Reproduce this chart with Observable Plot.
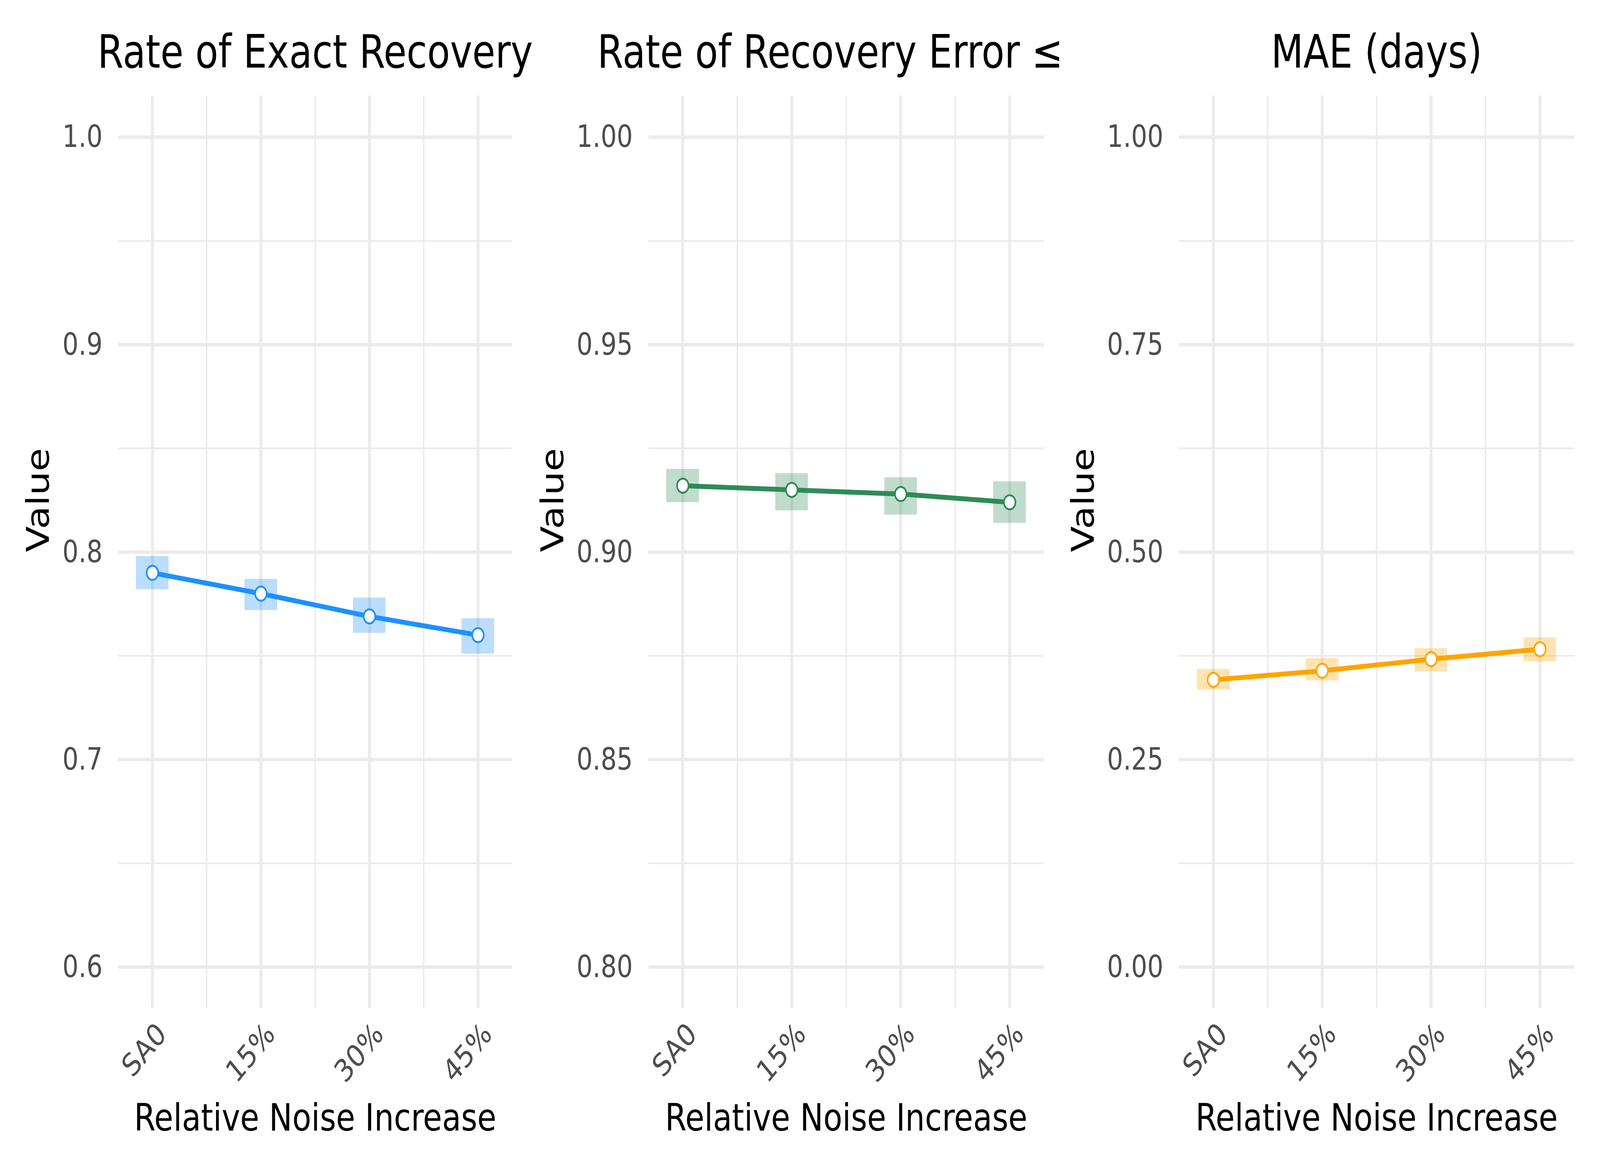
<!DOCTYPE html>
<html><head><meta charset="utf-8">
<script src="https://cdn.jsdelivr.net/npm/d3@7"></script>
<script src="https://cdn.jsdelivr.net/npm/@observablehq/plot@0.6"></script>
<style>
html,body{margin:0;padding:0;background:#fff;overflow:hidden;}
#chart{position:relative;width:5000px;height:3000px;background:#fff;overflow:hidden;transform-origin:0 0;}
#chart svg{position:absolute;top:0;max-width:none !important;}
</style></head><body><div id="chart"></div>
<script>
// categories (x positions on a numeric noise scale) and their labels
const noiseLevels = [0, 15, 30, 45];
const noiseLabels = ["SA0", "15%", "30%", "45%"];
const noiseMinor = [7.5, 22.5, 37.5];

// panel 1: rate of exact recovery
const exactRate = [0.790, 0.780, 0.769, 0.760];
const exactLo   = [0.782, 0.772, 0.761, 0.751];
const exactHi   = [0.798, 0.787, 0.778, 0.768];
const exactTicks = [0.6, 0.7, 0.8, 0.9, 1.0];
const exactMinor = [0.65, 0.75, 0.85, 0.95];

// panel 2: rate of recovery error <=
const withinRate = [0.916, 0.915, 0.914, 0.912];
const withinLo   = [0.912, 0.910, 0.909, 0.907];
const withinHi   = [0.920, 0.919, 0.918, 0.917];
const withinTicks = [0.80, 0.85, 0.90, 0.95, 1.00];
const withinMinor = [0.825, 0.875, 0.925, 0.975];

// panel 3: MAE (days)
const maeDays = [0.346, 0.357, 0.371, 0.383];
const maeLo   = [0.334, 0.345, 0.356, 0.368];
const maeHi   = [0.359, 0.372, 0.384, 0.397];
const maeTicks = [0.00, 0.25, 0.50, 0.75, 1.00];
const maeMinor = [0.125, 0.375, 0.625, 0.875];

const titles = ["Rate of Exact Recovery", "Rate of Recovery Error ≤", "MAE (days)"];
const xTitle = "Relative Noise Increase";
const yTitle = "Value";

const FONT = "DejaVu Sans";
const GRID = "#EBEBEB";
const TICKCOL = "#4D4D4D";
const HALF = 2.25;

const panels = [
  {title: titles[0], v: exactRate, lo: exactLo, hi: exactHi, color: "#1E90FF", domain: [0.58, 1.02], ticks: exactTicks, minor: exactMinor, fmt: d3.format(".1f"), left: 0, width: 1667, ml: 369, mr: 67, labelDx: -248, titleDx: 0},
  {title: titles[1], v: withinRate, lo: withinLo, hi: withinHi, color: "#2E8B57", domain: [0.79, 1.01], ticks: withinTicks, minor: withinMinor, fmt: d3.format(".2f"), left: 1667, width: 1667, ml: 359, mr: 72, labelDx: -297, titleDx: -50},
  {title: titles[2], v: maeDays, lo: maeLo, hi: maeHi, color: "#FFA500", domain: [-0.05, 1.05], ticks: maeTicks, minor: maeMinor, fmt: d3.format(".2f"), left: 3334, width: 1666, ml: 350, mr: 81, labelDx: -297, titleDx: 0}
];

const chart = document.getElementById("chart");
for (const p of panels) {
  const rows = noiseLevels.map((x, i) => ({x, y: p.v[i], lo: p.lo[i], hi: p.hi[i]}));
  const svg = Plot.plot({
    width: p.width,
    height: 3000,
    marginLeft: p.ml,
    marginRight: p.mr,
    marginTop: 244.5,
    marginBottom: 419,
    style: {fontFamily: FONT, background: "white", overflow: "visible"},
    x: {type: "linear", domain: [-4.725, 49.725]},
    y: {type: "linear", domain: p.domain},
    marks: [
      Plot.ruleY(p.minor, {stroke: GRID, strokeWidth: 4.6}),
      Plot.ruleX(noiseMinor, {stroke: GRID, strokeWidth: 4.6}),
      Plot.ruleY(p.ticks, {stroke: GRID, strokeWidth: 9}),
      Plot.ruleX(noiseLevels, {stroke: GRID, strokeWidth: 9}),
      Plot.rect(rows, {x1: d => d.x - HALF, x2: d => d.x + HALF, y1: "lo", y2: "hi", fill: p.color, fillOpacity: 0.3}),
      Plot.line(rows, {x: "x", y: "y", stroke: p.color, strokeWidth: 12.5}),
      Plot.dot(rows, {x: "x", y: "y", r: 18, fill: "white", stroke: p.color, strokeWidth: 5}),
      Plot.axisY(p.ticks, {tickFormat: p.fmt, tickSize: 0, tickPadding: 49, fontSize: 79, color: TICKCOL, label: null}),
      Plot.axisX(noiseLevels, {tickFormat: d => noiseLabels[noiseLevels.indexOf(d)], tickRotate: -45, tickSize: 0, tickPadding: 52, dx: 30, fontSize: 79, color: TICKCOL, label: null}),
      Plot.text([p.title], {text: d => d, frameAnchor: "top", dy: -72.5, dx: p.titleDx, lineAnchor: "bottom", fontSize: 117, fill: "black"}),
      Plot.text([xTitle], {text: d => d, frameAnchor: "bottom", dy: 312, lineAnchor: "bottom", fontSize: 97, fill: "black"}),
      Plot.text([yTitle], {text: d => d, frameAnchor: "left", dx: p.labelDx, rotate: -90, lineAnchor: "middle", fontSize: 97, fill: "black"})
    ]
  });
  svg.style.left = p.left + "px";
  chart.appendChild(svg);
}
// the layout is drawn on a 5000x3000 canvas and fitted to the actual window
const sx = window.innerWidth / 5000, sy = window.innerHeight / 3000;
chart.style.transform = `scale(${sx}, ${sy})`;
</script>
</body></html>
